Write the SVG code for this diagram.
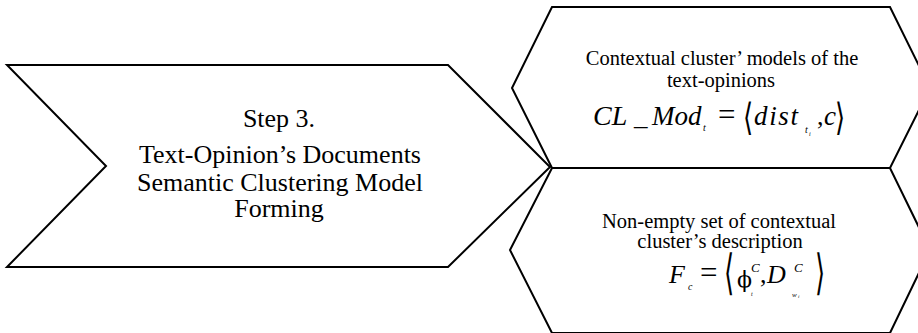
<svg xmlns="http://www.w3.org/2000/svg" width="918" height="333" viewBox="0 0 918 333">
<defs>
<style>
.shape{fill:#fff;stroke:#000;stroke-width:2;stroke-linejoin:miter}
</style>
</defs>
<rect width="918" height="333" fill="#fff"/>
<g id="hex-top">
<polygon class="shape" points="552,7 890,7 930,88 890,168 552,168 512,88"/>
<g font-family="'Liberation Serif', 'Times New Roman', serif" font-size="20.5" fill="#000" text-anchor="middle">
<text x="722" y="65">Contextual cluster’ models of the</text>
<text x="721" y="87">text-opinions</text>
</g>
<g font-family="'Liberation Serif', 'Times New Roman', serif" font-style="italic" fill="#000">
<text x="593" y="125" font-size="28">CL</text>
<text x="634" y="125" font-size="27">_</text>
<text x="652" y="125" font-size="27">Mod</text>
<text x="703" y="131" font-size="10">t</text>
<text x="718" y="125" font-size="31" font-style="normal">=</text>
<text transform="translate(743,130) scale(1,1.45)" font-family="'DejaVu Serif', serif" font-style="normal" font-size="26">⟨</text>
<text x="754" y="125" font-size="27" textLength="44" lengthAdjust="spacing">dist</text>
<text x="805" y="133" font-size="10">t</text>
<text x="809" y="136" font-size="6">i</text>
<text x="817" y="125" font-size="26" font-style="normal">,</text>
<text x="824" y="125" font-size="27">c</text>
<text transform="translate(835,130) scale(1,1.45)" font-family="'DejaVu Serif', serif" font-style="normal" font-size="26">⟩</text>
</g>
</g>
<g id="hex-bottom">
<polygon class="shape" points="552,168 890,168 930,250 890,333 552,333 510,250"/>
<g font-family="'Liberation Serif', 'Times New Roman', serif" font-size="20.5" fill="#000" text-anchor="middle">
<text x="719" y="228">Non-empty set of contextual</text>
<text x="720" y="248">cluster’s description</text>
</g>
<g font-family="'Liberation Serif', 'Times New Roman', serif" font-style="italic" fill="#000">
<text x="669" y="283" font-size="26">F</text>
<text x="688" y="290" font-size="10">c</text>
<text x="700" y="283" font-size="31" font-style="normal">=</text>
<text transform="translate(724,289) scale(1,1.85)" font-family="'DejaVu Serif', serif" font-style="normal" font-size="26">⟨</text>
<text x="737" y="287" font-size="22" font-family="'DejaVu Serif', serif" font-style="normal">ϕ</text>
<text x="751" y="272" font-size="13">C</text>
<text x="751" y="296" font-size="6">t</text>
<text x="760" y="283" font-size="26" font-style="normal">,</text>
<text x="767" y="283" font-size="26">D</text>
<text x="794" y="272" font-size="13">C</text>
<text x="792" y="297" font-size="7">w</text>
<text x="798" y="298" font-size="5">i</text>
<text transform="translate(815,289) scale(1,1.85)" font-family="'DejaVu Serif', serif" font-style="normal" font-size="26">⟩</text>
</g>
</g>
<g id="step3">
<polygon class="shape" points="7,65 448,65 550,167 448,267 7,267 106,166"/>
<g font-family="'Liberation Serif', 'Times New Roman', serif" font-size="26" fill="#000" text-anchor="middle">
<text x="279" y="127">Step 3.</text>
<text x="280" y="163">Text-Opinion’s Documents</text>
<text x="280" y="191">Semantic Clustering Model</text>
<text x="279" y="217">Forming</text>
</g>
</g>
<g id="connectors"></g>
</svg>
